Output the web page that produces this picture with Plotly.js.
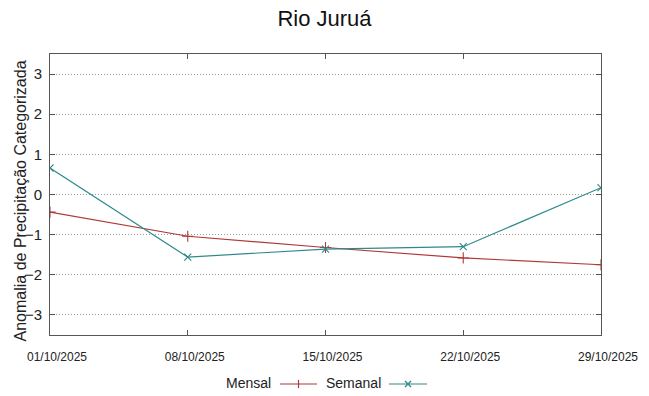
<!DOCTYPE html>
<html>
<head>
<meta charset="utf-8">
<script src="https://cdn.plot.ly/plotly-3.0.1.min.js"></script>
<style>html,body{margin:0;padding:0;background:#fff;}#chart{width:649px;height:396px;}</style>
</head>
<body>
<div id="chart"></div>
<script>
const dates = ['2025-10-01', '2025-10-08', '2025-10-15', '2025-10-22', '2025-10-29'];
const tickLabels = ['01/10/2025', '08/10/2025', '15/10/2025', '22/10/2025', '29/10/2025'];
const mensal = [-0.44, -1.04, -1.32, -1.58, -1.75];
const semanal = [0.66, -1.56, -1.36, -1.30, 0.17];
const seriesNames = ['Mensal', 'Semanal'];
const yTicks = [-3, -2, -1, 0, 1, 2, 3];
const yTitle = 'Anomalia de Precipitação Categorizada';

const redC = '#b03838';
const tealC = '#2e8a8a';
const font = 'Liberation Sans, Arial, sans-serif';

const traces = [
  {x: dates, y: mensal, name: seriesNames[0], type: 'scatter', mode: 'lines+markers',
   line: {color: redC, width: 1.2},
   marker: {symbol: 'cross-thin-open', size: 8, line: {color: redC, width: 1.1}},
   showlegend: false},
  {x: dates, y: semanal, name: seriesNames[1], type: 'scatter', mode: 'lines+markers',
   line: {color: tealC, width: 1.2},
   marker: {symbol: 'x-thin-open', size: 7, line: {color: tealC, width: 1.1}},
   showlegend: false}
];

const layout = {
  width: 649, height: 396,
  margin: {l: 50, r: 48, t: 54, b: 61},
  paper_bgcolor: '#fff', plot_bgcolor: '#fff',
  font: {family: font, color: '#222'},
  title: {text: 'Rio Juruá', font: {size: 22, color: '#111', family: font}, x: 0.5, xanchor: 'center', y: 0.955, yanchor: 'middle'},
  xaxis: {
    type: 'date',
    range: [dates[0], dates[dates.length - 1]],
    tickvals: dates, ticktext: tickLabels,
    tickfont: {size: 12, color: '#222'},
    ticks: 'inside', ticklen: 5, tickcolor: '#555', tickwidth: 1,
    showline: true, linecolor: '#555', linewidth: 1, mirror: 'ticks',
    showgrid: false, zeroline: false,
    ticklabelstandoff: 11,
    ticklabelshift: 7
  },
  yaxis: {
    range: [-3.5, 3.5],
    tickvals: yTicks,
    tickfont: {size: 15, color: '#222'},
    ticks: 'inside', ticklen: 5, tickcolor: '#555', tickwidth: 1,
    showline: true, linecolor: '#555', linewidth: 1, mirror: 'ticks',
    showgrid: true, gridcolor: '#999', griddash: '1px,2px', gridwidth: 1,
    zeroline: false,
    ticklabelstandoff: 4
  },
  showlegend: false,
  annotations: [
    {xref: 'paper', yref: 'paper', x: -(50 - 19.5) / 551, y: (335 - 201) / 281, xanchor: 'center', yanchor: 'middle',
     textangle: -90, text: yTitle, showarrow: false, font: {size: 16, color: '#222'}},
    {xref: 'paper', yref: 'paper', x: (273 - 50) / 551, y: -(383 - 335) / 281, xanchor: 'right', yanchor: 'middle',
     text: seriesNames[0], showarrow: false, font: {size: 14, color: '#222'}},
    {xref: 'paper', yref: 'paper', x: (324 - 50) / 551, y: -(383 - 335) / 281, xanchor: 'left', yanchor: 'middle',
     text: seriesNames[1], showarrow: false, font: {size: 14, color: '#222'}}
  ],
  shapes: [
    {type: 'line', xref: 'paper', yref: 'paper', x0: (280 - 50) / 551, x1: (317 - 50) / 551,
     y0: -(384 - 335) / 281, y1: -(384 - 335) / 281, line: {color: redC, width: 1.2}},
    {type: 'line', xref: 'paper', yref: 'paper', x0: (298.5 - 50) / 551, x1: (298.5 - 50) / 551,
     y0: -(380 - 335) / 281, y1: -(388 - 335) / 281, line: {color: redC, width: 1.2}},
    {type: 'line', xref: 'paper', yref: 'paper', x0: (389 - 50) / 551, x1: (427 - 50) / 551,
     y0: -(384 - 335) / 281, y1: -(384 - 335) / 281, line: {color: tealC, width: 1.2}},
    {type: 'line', xref: 'paper', yref: 'paper', x0: (405 - 50) / 551, x1: (411 - 50) / 551,
     y0: -(381 - 335) / 281, y1: -(387 - 335) / 281, line: {color: tealC, width: 1.2}},
    {type: 'line', xref: 'paper', yref: 'paper', x0: (405 - 50) / 551, x1: (411 - 50) / 551,
     y0: -(387 - 335) / 281, y1: -(381 - 335) / 281, line: {color: tealC, width: 1.2}}
  ]
};

Plotly.newPlot('chart', traces, layout, {displayModeBar: false, staticPlot: true});
</script>
</body>
</html>
